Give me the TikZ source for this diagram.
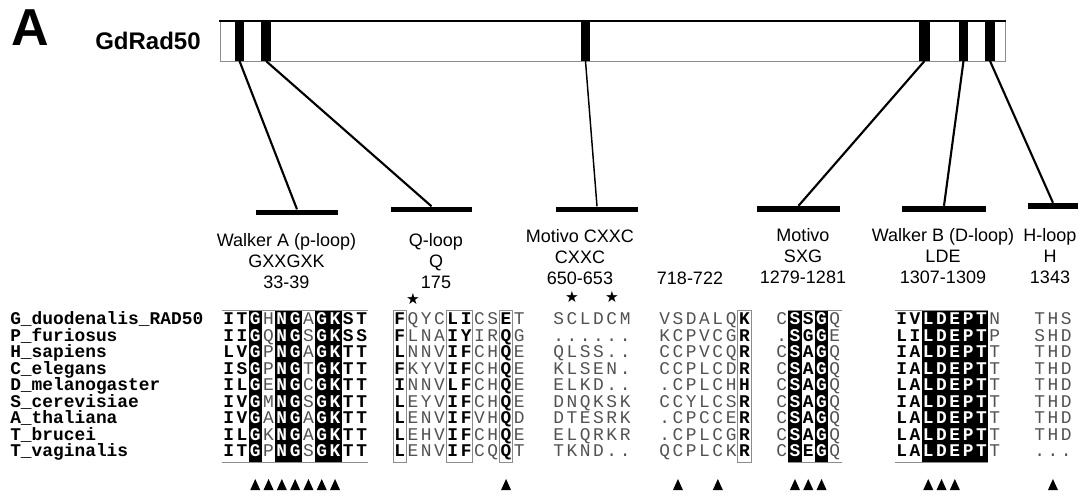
\documentclass[tikz,border=0pt]{standalone}
\usepackage{fontspec}
\setmainfont{Liberation Sans}
\newfontfamily\monof{Liberation Mono}
\newfontfamily\symf{DejaVu Sans}
\definecolor{resgrey}{gray}{0.32}
\definecolor{framegrey}{gray}{0.55}
\newcommand\cellw{13.3}
\def\mkrow#1#2\endA#3#4\endB{%
  \node[res#3] (c\blockid-\rowidx-\colidx) at ({\blockx+(\colidx-0.5)*\cellw},{324.5+(\rowidx-1)*16.5}) {#1};%
  \pgfmathtruncatemacro\colidx{\colidx+1}%
  \ifx\relax#2\relax\else\mkrow#2\endA#4\endB\fi}
\newcommand\seqrow[2]{%
  \def\rowidx{#1}\def\colidx{1}%
  \edef\tmprow{\noexpand\mkrow #2\noexpand\endA \fmtstr\noexpand\endB}%
  \tmprow}
\newcommand\blackcols[2]{\fill[black] ({\blockx+(#1-1)*\cellw},311) rectangle ({\blockx+#2*\cellw},461.5);}
\newcommand\framelines[2]{\draw[frm] ({\blockx+(#1-1)*\cellw},310.5) -- ({\blockx+#2*\cellw},310.5)
  ({\blockx+(#1-1)*\cellw},462) -- ({\blockx+#2*\cellw},462);}
\newcommand\boxcols[2]{\draw[frm] ({\blockx+(#1-1)*\cellw},310.5) rectangle ({\blockx+#2*\cellw},462);}
\newcommand\tri[1]{\fill ({\blockx+(#1-0.5)*\cellw-5},490) -- ({\blockx+(#1-0.5)*\cellw+5},490) -- ({\blockx+(#1-0.5)*\cellw},479) -- cycle;}
\begin{document}
\begin{tikzpicture}[x=0.75pt,y=-0.75pt,
  resb/.style={font={\monof\fontsize{13.4}{13.4}\bfseries\selectfont}, text=black, inner sep=0pt, anchor=base},
  resw/.style={font={\monof\fontsize{13.4}{13.4}\bfseries\selectfont}, text=white, inner sep=0pt, anchor=base},
  resg/.style={font={\monof\fontsize{13.4}{13.4}\mdseries\selectfont}, text=resgrey, inner sep=0pt, anchor=base},
  spname/.style={font={\monof\fontsize{13.4}{13.4}\bfseries\selectfont}, inner sep=0pt, anchor=base west},
  lbl/.style={font={\fontsize{13.5}{15.8}\selectfont}, align=center, inner sep=0pt},
  lbar/.style={fill=black, inner sep=0pt, minimum height=4.4pt},
  conn/.style={line width=1.6pt},
  frm/.style={draw=framegrey, line width=0.5pt},
  starmark/.style={font={\symf\fontsize{11.5}{11.5}\selectfont}, inner sep=0pt}]
\useasboundingbox (0,0) rectangle (1083,494);

% panel letter and protein name
\node[font={\fontsize{39}{39}\bfseries\selectfont}, inner sep=0pt] (panel) at (30,28) {A};
\node[font={\fontsize{18}{18}\bfseries\selectfont}, inner sep=0pt] (prot) at (148,41) {GdRad50};

% protein bar
\fill[white] (220,21) rectangle (1005,61);
\foreach \a/\b in {235/244, 261/271, 581/590, 919/930, 959/968, 985/995}
  \fill[black] (\a,21) rectangle (\b,61);
\draw[framegrey, line width=0.7pt] (220,21) rectangle (1005,61);
\draw[line width=2pt] (219.3,21) -- (1005.7,21);

\coordinate (d1) at (239.5,61);
\coordinate (d2) at (266,61);
\coordinate (d3) at (585.5,61);
\coordinate (d4) at (924.5,61);
\coordinate (d5) at (963.5,61);
\coordinate (d6) at (990,61);

% label bars
\node[lbar, minimum width=62pt] (m1) at (297,212.5) {};
\node[lbar, minimum width=60.75pt] (m2) at (431.5,209.5) {};
\node[lbar, minimum width=61.5pt] (m3) at (597,209.5) {};
\node[lbar, minimum width=62.25pt] (m4) at (798.5,209) {};
\node[lbar, minimum width=63pt] (m5) at (944,209) {};
\node[lbar, minimum width=37.5pt] (m6) at (1053,206) {};

\draw[conn] (d1) -- (m1.north);
\draw[conn] (d2) -- (m2.north);
\draw[line width=1.1pt] (d3) -- (m3.north);
\draw[conn] (d4) -- (m4.north);
\draw[conn] (d5) -- (m5.north);
\draw[conn] (d6) -- (m6.north);

% labels
\node[lbl] (l1) at (286.5,261) {Walker A (p-loop)\\GXXGXK\\33-39};
\node[lbl] (l2) at (436,261) {Q-loop\\Q\\175};
\node[lbl] (l3) at (580,257) {Motivo CXXC\\CXXC\\650-653};
\node[lbl] (l4) at (690,278) {718-722};
\node[lbl] (l5) at (803,256) {Motivo\\SXG\\1279-1281};
\node[lbl] (l6) at (943,256) {Walker B (D-loop)\\LDE\\1307-1309};
\node[lbl] (l7) at (1050,256) {H-loop\\H\\1343};

% stars
\node[starmark] (st1) at (413,299) {★};
\node[starmark] (st2) at (572,297) {★};
\node[starmark] (st3) at (612,297) {★};

% species names
\foreach \n [count=\i] in {G\_duodenalis\_RAD50, P\_furiosus, H\_sapiens, C\_elegans, D\_melanogaster, S\_cerevisiae, A\_thaliana, T\_brucei, T\_vaginalis}
  \node[spname] (sp\i) at (10,{324.5+(\i-1)*16.5}) {\n};

% block 1 : Walker A
\def\blockx{222}\def\blockid{1}\def\fmtstr{bbwgwwgwwbb}
\blackcols{3}{3}\blackcols{5}{6}\blackcols{8}{9}
\framelines{1}{11}
\seqrow{1}{ITGHNGAGKST}
\seqrow{2}{IIGQNGSGKSS}
\seqrow{3}{LVGPNGAGKTT}
\seqrow{4}{ISGPNGTGKTT}
\seqrow{5}{ILGENGCGKTT}
\seqrow{6}{IVGMNGSGKTT}
\seqrow{7}{IVGANGAGKTT}
\seqrow{8}{ILGKNGAGKTT}
\seqrow{9}{ITGPNGSGKTT}
\tri{3}\tri{4}\tri{5}\tri{6}\tri{7}\tri{8}\tri{9}

% block 2 : Q-loop
\def\blockx{393}\def\blockid{2}\def\fmtstr{bgggbbggbg}
\boxcols{1}{1}\boxcols{5}{6}\boxcols{9}{9}
\seqrow{1}{FQYCLICSET}
\seqrow{2}{FLNAIYIRQG}
\seqrow{3}{LNNVIFCHQE}
\seqrow{4}{FKYVIFCHQE}
\seqrow{5}{INNVLFCHQE}
\seqrow{6}{LEYVIFCHQE}
\seqrow{7}{LENVIFVHQD}
\seqrow{8}{LEHVIFCHQE}
\seqrow{9}{LENVIFCQQT}
\tri{9}

% block 3 : CXXC
\def\blockx{552}\def\blockid{3}\def\fmtstr{gggggg}
\seqrow{1}{SCLDCM}
\seqrow{2}{......}
\seqrow{3}{QLSS..}
\seqrow{4}{KLSEN.}
\seqrow{5}{ELKD..}
\seqrow{6}{DNQKSK}
\seqrow{7}{DTESRK}
\seqrow{8}{ELQRKR}
\seqrow{9}{TKND..}

% block 4 : 718-722
\def\blockx{658}\def\blockid{4}\def\fmtstr{ggggggb}
\boxcols{7}{7}
\seqrow{1}{VSDALQK}
\seqrow{2}{KCPVCGR}
\seqrow{3}{CCPVCQR}
\seqrow{4}{CCPLCDR}
\seqrow{5}{.CPLCHH}
\seqrow{6}{CCYLCSR}
\seqrow{7}{.CPCCER}
\seqrow{8}{.CPLCGR}
\seqrow{9}{QCPLCKR}
\tri{2}\tri{5}

% block 5 : SXG
\def\blockx{775}\def\blockid{5}\def\fmtstr{gwbwg}
\blackcols{2}{2}\blackcols{4}{4}
\framelines{2}{5}
\seqrow{1}{CSSGQ}
\seqrow{2}{.SGGE}
\seqrow{3}{CSAGQ}
\seqrow{4}{CSAGQ}
\seqrow{5}{CSAGQ}
\seqrow{6}{CSAGQ}
\seqrow{7}{CSAGQ}
\seqrow{8}{CSAGQ}
\seqrow{9}{CSEGQ}
\tri{2}\tri{3}\tri{4}

% block 6 : Walker B
\def\blockx{895}\def\blockid{6}\def\fmtstr{bbwwwwwg}
\blackcols{3}{7}
\framelines{1}{7}
\seqrow{1}{IVLDEPTN}
\seqrow{2}{LILDEPTP}
\seqrow{3}{IALDEPTT}
\seqrow{4}{IALDEPTT}
\seqrow{5}{LALDEPTT}
\seqrow{6}{IALDEPTT}
\seqrow{7}{LALDEPTT}
\seqrow{8}{LALDEPTT}
\seqrow{9}{LALDEPTT}
\tri{3}\tri{4}\tri{5}

% block 7 : H-loop
\def\blockx{1033}\def\blockid{7}\def\fmtstr{ggg}
\seqrow{1}{THS}
\seqrow{2}{SHD}
\seqrow{3}{THD}
\seqrow{4}{THD}
\seqrow{5}{THD}
\seqrow{6}{THD}
\seqrow{7}{THD}
\seqrow{8}{THD}
\seqrow{9}{...}
\tri{2}
\end{tikzpicture}
\end{document}
